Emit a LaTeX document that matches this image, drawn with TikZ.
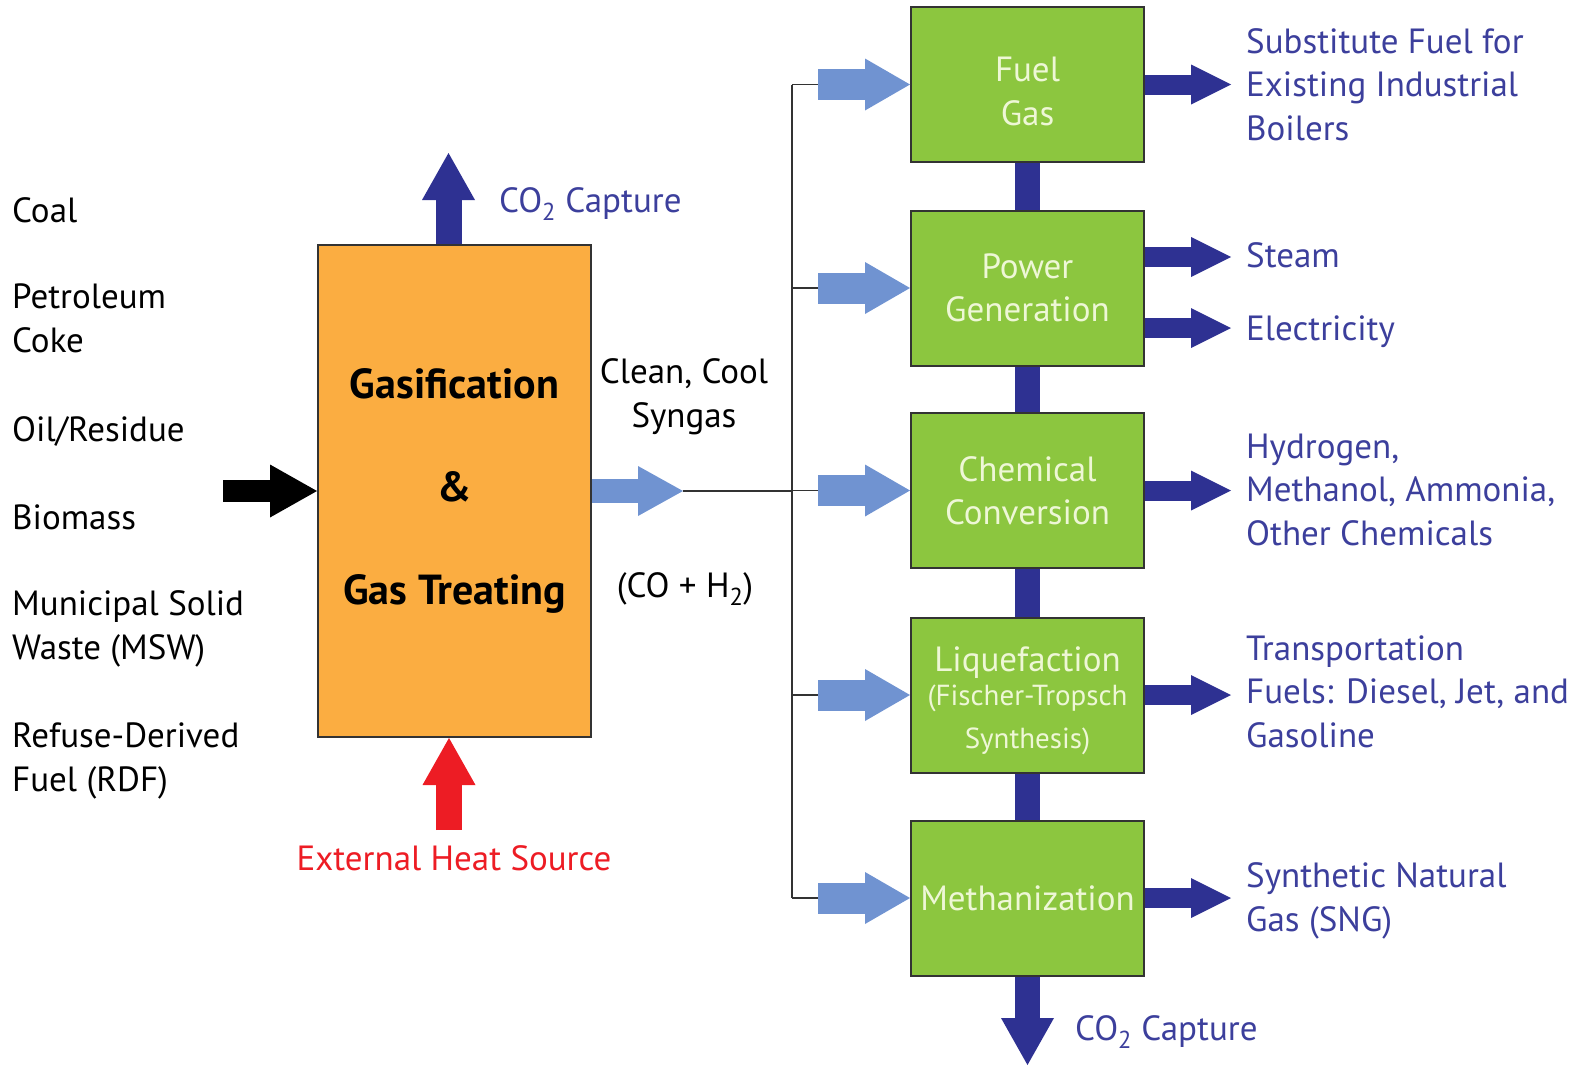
\documentclass[tikz,border=0pt]{standalone}
\usepackage{fontspec}
\setmainfont{PT Sans}
\usetikzlibrary{arrows.meta}
\definecolor{boxorange}{HTML}{FBAD41}
\definecolor{boxgreen}{HTML}{8CC63F}
\definecolor{dblue}{HTML}{2E3192}
\definecolor{lblue}{HTML}{7093D1}
\definecolor{heatred}{HTML}{ED1C24}
\definecolor{tblue}{HTML}{3C3F9C}
\definecolor{gtext}{HTML}{EEF7D6}
\definecolor{boxline}{HTML}{333333}
\newcommand\smallft{\fontsize{29}{36}\selectfont}
\begin{document}
\begin{tikzpicture}[x=1pt,y=-1pt,
  box/.style={draw=boxline, line width=2pt, inner sep=0pt},
  gbox/.style={box, fill=boxgreen, minimum width=233pt, minimum height=155pt,
    text=gtext, align=center, font=\fontsize{35}{43.5}\selectfont},
  lbl/.style={inner sep=0pt, align=left, font=\fontsize{35}{43.5}\selectfont},
  bluelbl/.style={lbl, text=tblue},
  thinl/.style={draw=boxline, line width=1.5pt},
  darr/.style={draw=dblue, line width=20pt, -{Triangle[width=40pt,length=40pt,line width=0pt]}},
  larr/.style={draw=lblue, line width=31pt, -{Triangle[width=52pt,length=45pt,line width=0pt]}},
  synarr/.style={draw=lblue, line width=24pt, -{Triangle[width=50pt,length=45pt,line width=0pt]}},
  vertarr/.style={line width=26pt, -{Triangle[width=53pt,length=47pt,line width=0pt]}},
  link/.style={draw=dblue, line width=25pt}
]
\useasboundingbox (0,0) rectangle (1583,1066);

% main boxes
\node[box, fill=boxorange, minimum width=273pt, minimum height=492pt, align=center,
  font=\bfseries\fontsize{42}{103}\selectfont] (gas) at (454.5,491)
  {Gasification\\\&\\Gas Treating};

\node[gbox] (fuel) at (1027.5,84.5) {\rule{0pt}{38pt}Fuel\\Gas};
\node[gbox] (power) at (1027.5,288) {Power\\Generation};
\node[gbox] (chem) at (1027.5,490.5) {Chemical\\Conversion};
\node[gbox] (liq) at (1027.5,695) {\rule{0pt}{36pt}Liquefaction\\[-9pt]\smallft (Fischer-Tropsch\\[-1pt]\smallft Synthesis)};
\node[gbox] (meth) at (1027.5,898) {Methanization};

% feedstocks (base anchor = baseline of last line)
\node[lbl, anchor=base west] (coal) at (12,222) {Coal};
\node[lbl, anchor=base west] (pet) at (12,352) {Petroleum\\Coke};
\node[lbl, anchor=base west] (oil) at (12,441) {Oil/Residue};
\node[lbl, anchor=base west] (bio) at (12,529) {Biomass};
\node[lbl, anchor=base west] (msw) at (12,659) {Municipal Solid\\Waste (MSW)};
\node[lbl, anchor=base west] (rdf) at (12,791) {Refuse-Derived\\Fuel (RDF)};

% syngas labels
\node[lbl, align=center, anchor=base] (clean) at (684,427) {Clean, Cool\\Syngas};
\node[lbl, anchor=base] (coh) at (685,597) {(CO + H\textsubscript{2})};

% other labels
\node[bluelbl, anchor=base west] (co2a) at (499,212) {CO\textsubscript{2} Capture};
\node[lbl, text=heatred, anchor=base] (heat) at (454,870) {External Heat Source};
\node[bluelbl, anchor=base west] (co2b) at (1075,1040) {CO\textsubscript{2} Capture};

% products
\node[bluelbl, anchor=base west] (p1) at (1246,140) {Substitute Fuel for\\Existing Industrial\\Boilers};
\node[bluelbl, anchor=base west] (p2) at (1246,267) {Steam};
\node[bluelbl, anchor=base west] (p3) at (1246,340) {Electricity};
\node[bluelbl, anchor=base west] (p4) at (1246,545) {Hydrogen,\\Methanol, Ammonia,\\Other Chemicals};
\node[bluelbl, anchor=base west] (p5) at (1246,747) {Transportation\\Fuels: Diesel, Jet, and\\Gasoline};
\node[bluelbl, anchor=base west] (p6) at (1246,931) {Synthetic Natural\\Gas (SNG)};

% coordinates
\coordinate (feed) at (223,491);
\coordinate (co2top) at (448.5,153);
\coordinate (heatsrc) at (449,830);
\coordinate (synend) at (683,491);
\coordinate (bus) at (792,0);
\coordinate (co2bot) at (1027.5,1065);

% input / output arrows of gasifier
\draw[vertarr, draw=black, line width=22pt] (feed) -- (gas.west);
\draw[vertarr, draw=dblue] (co2top |- gas.north) -- (co2top);
\draw[vertarr, draw=heatred] (heatsrc) -- (heatsrc |- gas.south);
\draw[synarr] (gas.east) -- (synend);
\draw[thinl] (synend) -- (bus |- synend);

% bus
\draw[thinl] (bus |- fuel.west) -- (bus |- meth.west);
\foreach \b in {fuel,power,chem,liq,meth}{
  \draw[thinl] (bus |- \b.west) -- ++(26,0) coordinate (\b-in);
  \draw[larr] (\b-in) -- (\b.west);
}

% links between green boxes
\draw[link] (fuel.south) -- (power.north);
\draw[link] (power.south) -- (chem.north);
\draw[link] (chem.south) -- (liq.north);
\draw[link] (liq.south) -- (meth.north);
\draw[vertarr, draw=dblue, line width=25pt] (meth.south) -- (co2bot);

% product arrows
\draw[darr] (fuel.east) -- ++(86,0);
\draw[darr] ([yshift=31pt]power.east) -- ++(86,0);
\draw[darr] ([yshift=-40pt]power.east) -- ++(86,0);
\draw[darr] (chem.east) -- ++(86,0);
\draw[darr] (liq.east) -- ++(86,0);
\draw[darr] (meth.east) -- ++(86,0);
\end{tikzpicture}
\end{document}
